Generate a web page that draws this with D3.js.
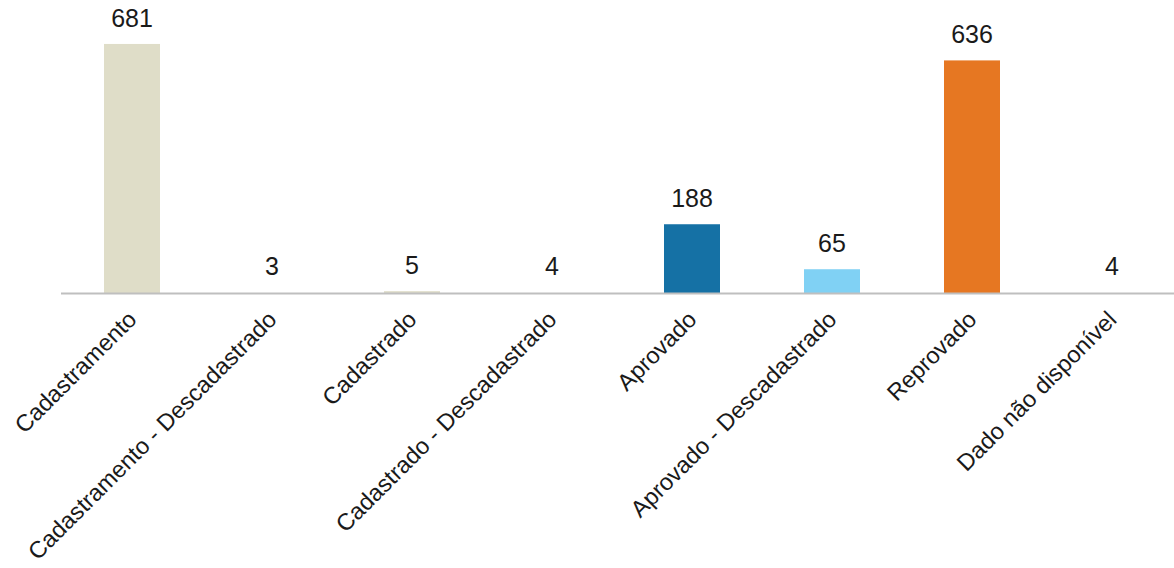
<!DOCTYPE html>
<html>
<head>
<meta charset="utf-8">
<script src="https://cdn.jsdelivr.net/npm/d3@7"></script>
<style>
  html, body { margin: 0; padding: 0; background: #fff; }
  svg { display: block; font-family: 'Liberation Sans', Arial, sans-serif; }
</style>
</head>
<body>
<div id="chart"></div>
<script>
// Data
const categories = [
	'Cadastramento',
	'Cadastramento - Descadastrado',
	'Cadastrado',
	'Cadastrado - Descadastrado',
	'Aprovado',
	'Aprovado - Descadastrado',
	'Reprovado',
	'Dado não disponível'
];
const values = [681, 3, 5, 4, 188, 65, 636, 4];
const barColors = ['#dfddc8', '#ffffff', '#dfddc8', '#ffffff', '#1571a5', '#80d1f4', '#e67722', '#ffffff'];

// Chart dimensions
const width = 1174;
const height = 568;
const marginLeft = 62;
const baseline = 293;

const svg = d3.select('#chart')
	.append('svg')
	.attr('width', width)
	.attr('height', height)
	.attr('viewBox', [0, 0, width, height]);

const x = d3.scaleBand()
	.domain(categories)
	.range([marginLeft, 1182])
	.paddingInner(0.6)
	.paddingOuter(0.3);

const y = d3.scaleLinear()
	.domain([0, 700])
	.range([baseline, 37]);

// Bars
svg.append('g')
	.selectAll('rect')
	.data(values)
	.join('rect')
	.attr('x', (d, i) => x(categories[i]))
	.attr('y', (d) => y(d))
	.attr('width', x.bandwidth())
	.attr('height', (d) => y(0) - y(d))
	.attr('fill', (d, i) => barColors[i]);

// Axis line
svg.append('line')
	.attr('x1', marginLeft - 1)
	.attr('x2', width)
	.attr('y1', baseline + 0.5)
	.attr('y2', baseline + 0.5)
	.attr('stroke', '#bfbfbf')
	.attr('stroke-width', 2);

// Value labels
svg.append('g')
	.selectAll('text')
	.data(values)
	.join('text')
	.attr('x', (d, i) => x(categories[i]) + x.bandwidth() / 2)
	.attr('y', (d) => y(d) - 17)
	.attr('text-anchor', 'middle')
	.style('font-size', '25px')
	.style('fill', '#1a1a1a')
	.text((d) => d);

// Category labels, rotated
svg.append('g')
	.selectAll('text')
	.data(categories)
	.join('text')
	.attr('transform', (d) =>
		'translate(' + (x(d) + x.bandwidth() / 2 + 6) + ',' + (baseline + 28) + ') rotate(-45)'
	)
	.attr('text-anchor', 'end')
	.style('font-size', '23.5px')
	.style('fill', '#1a1a1a')
	.text((d) => d);
</script>
</body>
</html>
